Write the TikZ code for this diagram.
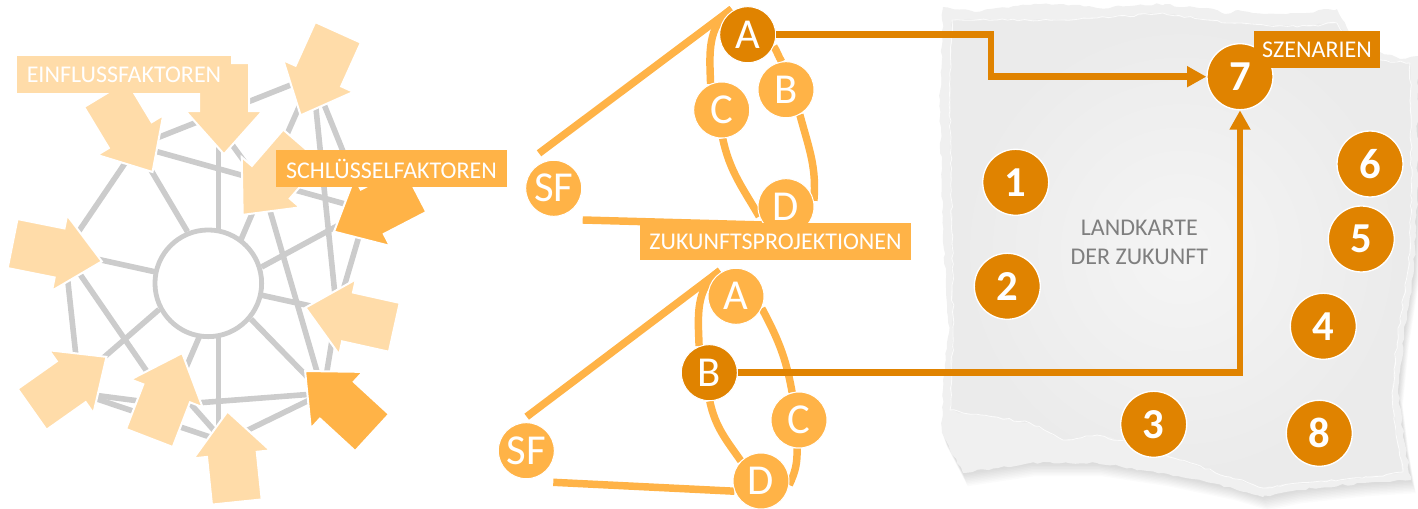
\documentclass[tikz,border=0pt]{standalone}
\usepackage{fontspec}
\setmainfont{Carlito}
\usetikzlibrary{shapes.arrows,arrows.meta,decorations.pathmorphing,backgrounds}
\definecolor{lightorange}{HTML}{FFDCA9}
\definecolor{midorange}{HTML}{FFB347}
\definecolor{darkorange}{HTML}{E08300}
\definecolor{spokegray}{HTML}{CCCCCC}
\definecolor{textgray}{HTML}{7F7F7F}
\newcommand{\paperouter}{(943,7) -- (975,12) -- (997,8) -- (1030,5) -- (1063,4) -- (1097,8) -- (1130,6) -- (1165,4) -- (1185,7) -- (1207,8) -- (1225,14) -- (1238,10) -- (1265,14) -- (1297,13) -- (1337,9) -- (1347,28) -- (1360,43) -- (1380,52) -- (1400,59) -- (1418,56) -- (1417,200) -- (1414,270) -- (1404,333) -- (1398,393) -- (1404,440) -- (1411,480) -- (1363,483) -- (1297,490) -- (1263,497) -- (1230,487) -- (1163,473) -- (1097,463) -- (1030,463) -- (963,473) -- (942,433) -- (943,380) -- (949,333) -- (943,233) -- (940,100) -- cycle}
\newcommand{\paperinner}{(952,20) -- (997,20) -- (1063,20) -- (1097,18) -- (1163,13) -- (1207,20) -- (1230,23) -- (1297,27) -- (1337,23) -- (1353,47) -- (1380,60) -- (1410,63) -- (1412,200) -- (1408,270) -- (1398,333) -- (1392,393) -- (1397,440) -- (1403,472) -- (1363,478) -- (1297,483) -- (1263,488) -- (1230,477) -- (1180,460) -- (1130,443) -- (1097,435) -- (1063,440) -- (1030,423) -- (997,417) -- (963,413) -- (950,410) -- (953,333) -- (952,233) -- (950,100) -- cycle}
\tikzset{
  infarrow/.style={single arrow,draw=white,line width=1.5pt,fill=lightorange,anchor=tip,
    minimum height=68.25pt,inner xsep=0pt,inner ysep=18pt,
    single arrow head extend=10.1pt,single arrow tip angle=83.5},
  keyarrow/.style={infarrow,fill=midorange},
  spoke/.style={draw=spokegray,line width=4.2pt},
  hubcircle/.style={circle,draw=spokegray,fill=white,line width=3.6pt,minimum size=80pt},
  proj/.style={circle,draw=white,line width=.75pt,fill=midorange,text=white,minimum size=42pt,inner sep=0pt,
    font=\fontsize{32}{34}\selectfont},
  projdark/.style={proj,fill=darkorange},
  projline/.style={draw=midorange,line width=5.6pt},
  scenline/.style={draw=darkorange,line width=5.2pt,-{Triangle[length=14.5pt,width=15pt]}},
  scen/.style={circle,draw=white,line width=1pt,fill=darkorange,text=white,minimum size=49.5pt,inner sep=0pt,
    font=\fontsize{32}{34}\bfseries\selectfont},
  tag/.style={text=white,inner sep=0pt,font=\fontsize{18}{20}\selectfont},
  torn/.style={decorate,decoration={random steps,segment length=4pt,amplitude=.9pt}}
}
\begin{document}
\begin{tikzpicture}[x=.75pt,y=-.75pt]
\useasboundingbox (0,0) rectangle (1418,509);
\begin{scope}
\coordinate (v1) at (312.7,76.3);
\coordinate (v2) at (218.3,125.7);
\coordinate (v3) at (136.7,146);
\coordinate (v4) at (263.3,187.7);
\coordinate (v5) at (366.7,210);
\coordinate (v6) at (336.7,311.7);
\coordinate (v7) at (323.3,393.3);
\coordinate (v8) at (224,441.7);
\coordinate (v9) at (170,405);
\coordinate (v10) at (80,393.3);
\coordinate (v11) at (64.7,252);
\coordinate (e8) at (218.3,433.3);
\coordinate (e9) at (178.3,390);
\coordinate (e10) at (86.7,372.3);
\path[draw,spoke] (v3) -- (v1);
\path[draw,spoke] (v3) -- (v5);
\path[draw,spoke] (v3) -- (v11);
\path[draw,spoke] (v2) -- (e8);
\path[draw,spoke] (v2) -- (v4);
\path[draw,spoke] (v1) -- (v4);
\path[draw,spoke] (v1) -- (v6);
\path[draw,spoke] (v1) -- (v5);
\path[draw,spoke] (v5) -- (v6);
\path[draw,spoke] (v4) -- (v7);
\path[draw,spoke] (v11) -- (v6);
\path[draw,spoke] (v6) -- (v7);
\path[draw,spoke] (v7) -- (v9);
\path[draw,spoke] (v7) -- (v8);
\path[draw,spoke] (v4) -- (v9);
\path[draw,spoke] (v11) -- (v10);
\path[draw,spoke] (v11) -- (v9);
\path[draw,spoke] (v10) -- (v9);
\path[draw,spoke] (v10) -- (v8);
\path[draw,spoke] (e9) -- (v8);
\node[hubcircle] (hub) at (208.3,283.3) {};
\path[draw,spoke] (v3) -- (hub.112.8);
\path[draw,spoke] (v5) -- (hub.17.4);
\path[draw,spoke] (v7) -- (hub.-40.8);
\path[draw,spoke] (e10) -- (hub.208);
\node[infarrow,rotate=-114.3] (k1) at (300,116.7) {};
\node[infarrow,rotate=-90] (k2) at (224,155.7) {};
\node[infarrow,rotate=-58.9] (k3) at (153.3,173.3) {};
\node[infarrow,rotate=-130.8] (k4) at (241.7,216) {};
\node[keyarrow,rotate=-152.6] (k5) at (332.7,232.3) {};
\node[infarrow,rotate=167.5] (k6) at (304,307.3) {};
\node[keyarrow,rotate=137.4] (k7) at (304,370) {};
\node[infarrow,rotate=68.9] (k9) at (182.7,351.7) {};
\node[infarrow,rotate=95.9] (k8) at (227.3,410) {};
\node[infarrow,rotate=35.2] (k10) at (107.7,356) {};
\node[infarrow,rotate=-11.3] (k11) at (103.3,261.7) {};
\node[tag,fill=lightorange,minimum width=160.5pt,minimum height=27.75pt] (einfluss) at (124,74.5) {EINFLUSSFAKTOREN};
\node[tag,fill=midorange,minimum width=173.25pt,minimum height=27.75pt] (schluessel) at (391.5,168.5) {SCHLÜSSELFAKTOREN};
\end{scope}
\begin{scope}
\pgfmathsetseed{7}
\foreach \s in {1,...,9} {
  \fill[black,opacity=.016,xshift=\s*.4pt,yshift=-\s*1.1pt] \paperouter;
}
\fill[torn,fill=white!94!black] \paperouter;
\shade[torn,inner color=white!96!black,outer color=white!92!black] \paperinner;
\path[torn,draw=white,line width=.6pt,opacity=.8] \paperinner;
\end{scope}
\begin{scope}
\node[proj] (s1) at (553.7,188.3) {SF};
\node[projdark] (a1) at (747.7,34.7) {A};
\node[proj] (b1) at (786,89.7) {B};
\node[proj] (c1) at (721.7,110) {C};
\node[proj] (d1) at (786,206.7) {D};
\node[proj] (s2) at (526.3,450.7) {SF};
\node[proj] (a2) at (736,296.3) {A};
\node[projdark] (b2) at (709.3,372.7) {B};
\node[proj] (c2) at (799,420) {C};
\node[proj] (d2) at (761,481) {D};
\coordinate (e1) at (539,153.3);
\coordinate (t1) at (731.7,9);
\coordinate (e2) at (582.7,220);
\coordinate (m1) at (991,34.7);
\coordinate (e3) at (526.7,416.7);
\coordinate (t2) at (720,270.7);
\coordinate (e4) at (553.3,482.3);
\begin{pgfonlayer}{background}
\path[draw,projline] (e1) -- (t1);
\path[draw,projline] (t1) to[out=215,in=92] (c1.113.6);
\path[draw,projline] (c1.-88) to[out=-78,in=120] (d1.200);
\path[draw,projline] (a1.-24) to[out=-58,in=120] (b1.99);
\path[draw,projline] (b1.-61) to[out=-75,in=85] (d1.12);
\path[draw,projline] (e2) -- (d1.-140);
\path[draw,projline] (e3) -- (t2);
\path[draw,projline] (t2) to[out=215,in=92] (b2.111.7);
\path[draw,projline] (b2.-89) to[out=-78,in=125] (d2.135);
\path[draw,projline] (a2.-25) to[out=-62,in=100] (c2.104.5);
\path[draw,projline] (c2.-94.5) to[out=-88,in=65] (d2.-8);
\path[draw,projline] (e4) -- (d2.201);
\end{pgfonlayer}
\node[scen] (1) at (1015.7,182.3) {1};
\node[scen] (2) at (1007.3,286.3) {2};
\node[scen] (3) at (1153.7,424.3) {3};
\node[scen] (4) at (1323.3,326.3) {4};
\node[scen] (5) at (1361.3,239) {5};
\node[scen] (6) at (1370,164) {6};
\node[scen] (7) at (1240,76.7) {7};
\node[scen] (8) at (1319.3,433.3) {8};
\path[draw,scenline] (a1) -- (m1) |- (7);
\path[draw,scenline] (b2) -| (7);
\node[tag,fill=midorange,minimum width=203.25pt,minimum height=27.75pt] (zukunft) at (775.5,241.5) {ZUKUNFTSPROJEKTIONEN};
\node[tag,fill=darkorange,minimum width=94.5pt,minimum height=27.75pt] (szenarien) at (1317,49.5) {SZENARIEN};
\node[text=textgray,align=center,inner sep=0pt,font=\fontsize{18}{21.75}\selectfont] (landkarte) at (1139.3,242.5) {LANDKARTE\\DER ZUKUNFT};
\end{scope}
\end{tikzpicture}
\end{document}
